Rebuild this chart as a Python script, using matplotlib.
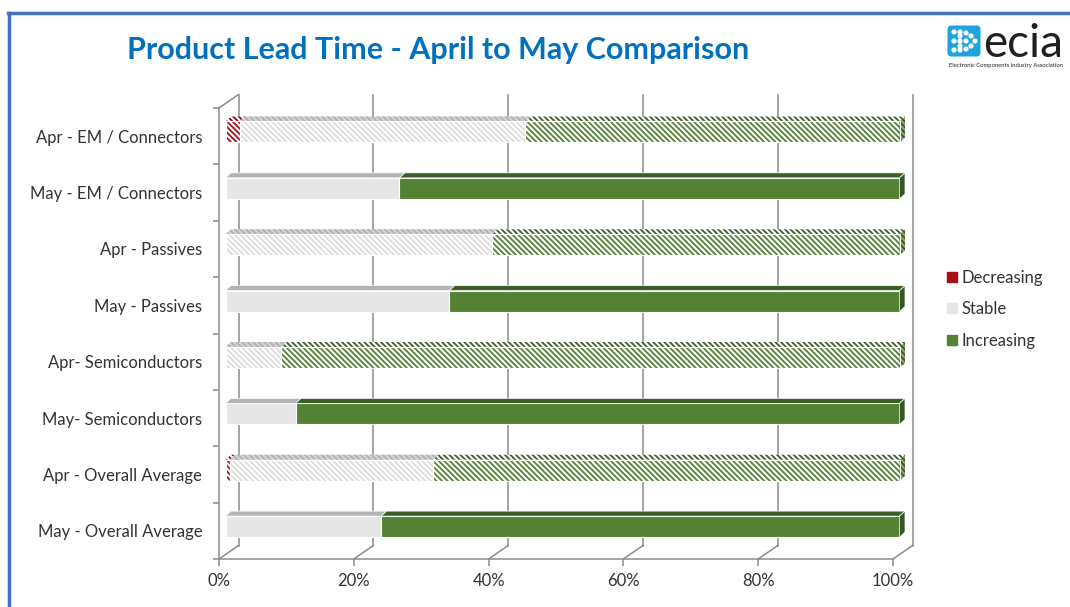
import matplotlib
matplotlib.use('Agg')
import matplotlib.pyplot as plt
from matplotlib.patches import Polygon, FancyBboxPatch, Circle
from matplotlib.lines import Line2D

categories = ['Apr - EM / Connectors', 'May - EM / Connectors', 'Apr - Passives', 'May - Passives',
              'Apr- Semiconductors', 'May- Semiconductors', 'Apr - Overall Average', 'May - Overall Average']
decreasing = [2.1, 0, 0, 0, 0, 0, 0.6, 0]
stable = [42.4, 25.8, 39.6, 33.2, 8.3, 10.4, 30.2, 23.1]
increasing = [55.5, 74.2, 60.4, 66.8, 91.7, 89.6, 69.2, 76.9]
hatched = [True, False, True, False, True, False, True, False]   # April rows are hatched
series = ['Decreasing', 'Stable', 'Increasing']
xticks = [0, 20, 40, 60, 80, 100]
xtick_labels = ['0%', '20%', '40%', '60%', '80%', '100%']

# face, top face, end face, stripe colour
style = {
    'Decreasing': dict(face='#A50F15', top='#7A0A0F', side='#6E0A0E', stripe='#A50F15'),
    'Stable': dict(face='#E6E6E6', top='#B4B4B4', side='#A0A0A0', stripe='#DCDCDC'),
    'Increasing': dict(face='#548235', top='#3A5F24', side='#375623', stripe='#548235'),
}

FONT = 'Lato'
GRAY = '#8C8C8C'
HATCH = '\\' * 6
plt.rcParams['font.family'] = [FONT, 'DejaVu Sans']
plt.rcParams['hatch.linewidth'] = 1.3

W, H = 1070, 607
fig = plt.figure(figsize=(W / 100, H / 100), dpi=100)
# axes = front plane of the 3d box (pixels 219..893, 108..559)
ax = fig.add_axes([219 / W, (H - 559) / H, 674 / W, 451 / H])
n = len(categories)
ax.set_xlim(0, 100)
ax.set_ylim(n - 0.5, -0.5)

# pixel -> data helpers
px = lambda v: v * 100 / 674
py = lambda v: v * n / 451

back_dx, back_dy = px(19.5), py(-13.5)     # back wall offset
bar_dx, bar_dy = px(6.5), py(-4.2)         # bars sit a third into the box
dep_dx, dep_dy = px(5.5), py(-5)           # bar depth
bar_h = py(21)

# back wall and floor
for x in xticks:
    ax.plot([x + back_dx] * 2, [-0.5 + back_dy, n - 0.5 + back_dy], color=GRAY, lw=1.1, zorder=1, clip_on=False)
    ax.plot([x, x + back_dx], [n - 0.5, n - 0.5 + back_dy], color=GRAY, lw=1.1, zorder=1, clip_on=False)
ax.plot([0, back_dx], [-0.5, -0.5 + back_dy], color=GRAY, lw=1.1, zorder=1, clip_on=False)

ys = [i + bar_dy for i in range(n)]
lefts = [0.0] * n
for s, vals in zip(series, [decreasing, stable, increasing]):
    st = style[s]
    for i in range(n):
        v = vals[i]
        if v <= 0:
            continue
        l = lefts[i] + bar_dx
        r = l + v
        top, bot = ys[i] - bar_h / 2, ys[i] + bar_h / 2
        topface = [(l, top), (l + dep_dx, top + dep_dy), (r + dep_dx, top + dep_dy), (r, top)]
        if hatched[i]:
            ax.barh(ys[i], v, left=l, height=bar_h, color='white', edgecolor=st['stripe'],
                    hatch=HATCH, lw=0, zorder=3, clip_on=False)
            ax.barh(ys[i], v, left=l, height=bar_h, fill=False, edgecolor='white', lw=0.8, zorder=4,
                    clip_on=False)
            if s == 'Stable':
                ax.add_patch(Polygon(topface, facecolor='#D4D4D4', edgecolor='#B0B0B0', hatch=HATCH,
                                     lw=0, zorder=3, clip_on=False))
            else:
                ax.add_patch(Polygon(topface, facecolor='white', edgecolor=st['top'], hatch=HATCH,
                                     lw=0, zorder=3, clip_on=False))
        else:
            ax.barh(ys[i], v, left=l, height=bar_h, color=st['face'], edgecolor='white', lw=0.8, zorder=3,
                    clip_on=False)
            ax.add_patch(Polygon(topface, facecolor=st['top'], edgecolor='white', lw=0.5, zorder=3,
                                 clip_on=False))
        if s == 'Increasing':
            side = [(r, top), (r + dep_dx, top + dep_dy), (r + dep_dx, bot + dep_dy), (r, bot)]
            if hatched[i]:
                ax.add_patch(Polygon(side, facecolor='#8AA678', edgecolor=st['side'], hatch=HATCH,
                                     lw=0, zorder=3, clip_on=False))
            else:
                ax.add_patch(Polygon(side, facecolor=st['side'], edgecolor='white', lw=0.5, zorder=3,
                                     clip_on=False))
        lefts[i] += v

# axes / ticks
for sp in ['top', 'right']:
    ax.spines[sp].set_visible(False)
for sp in ['left', 'bottom']:
    ax.spines[sp].set_color(GRAY)
    ax.spines[sp].set_linewidth(1.1)
ax.set_xticks(xticks, xtick_labels)
ax.set_yticks(range(n), categories)
ax.set_yticks([i - 0.5 for i in range(n + 1)], minor=True)
ax.tick_params(axis='x', length=5, color=GRAY, width=1.1, pad=5, labelsize=12, labelcolor='#333333')
ax.tick_params(axis='y', which='major', length=0, pad=12, labelsize=12, labelcolor='#333333')
ax.tick_params(axis='y', which='minor', length=4.5, color=GRAY, width=1.1)

# legend
handles = [Line2D([], [], marker='s', ls='', markersize=7, color=style[s]['face']) for s in series]
fig.legend(handles, series, loc='upper left', bbox_to_anchor=(932 / W, 1 - 255 / H), frameon=False,
           handlelength=0.6, handletextpad=0.25, labelspacing=0.92, fontsize=12, labelcolor='#333333')

# title
fig.text(438 / W, 1 - 50 / H, 'Product Lead Time - April to May Comparison', ha='center', va='center',
         fontsize=22, fontweight='bold', color='#0070C0')

# logo
la = fig.add_axes([0, 0, 1, 1], zorder=-1)
la.set_xlim(0, W)
la.set_ylim(H, 0)
la.axis('off')
la.add_patch(FancyBboxPatch((949, 27), 30, 28, boxstyle='round,pad=1.5,rounding_size=4',
                            facecolor='#1FA3DD', edgecolor='none'))
for cx, cy in [(954, 32), (960, 32), (966, 33), (971, 36), (975, 41), (971, 46), (966, 49), (960, 50),
               (954, 50), (954, 41), (960, 41), (966, 41), (960, 36), (960, 46)]:
    la.add_patch(Circle((cx, cy), 1.9, color='white'))
la.text(983, 57, 'ecia', fontsize=33, color='#231F20', va='baseline', ha='left')
la.text(1006, 66, 'Electronic Components Industry Association', fontsize=4.2, color='#231F20',
        ha='center', va='center')

# blue frame
la.plot([8, W], [13, 13], color='#4472C4', lw=2.5)
la.plot([9, 9], [13, H], color='#4472C4', lw=2.5)

fig.savefig('out.png', dpi=100)
